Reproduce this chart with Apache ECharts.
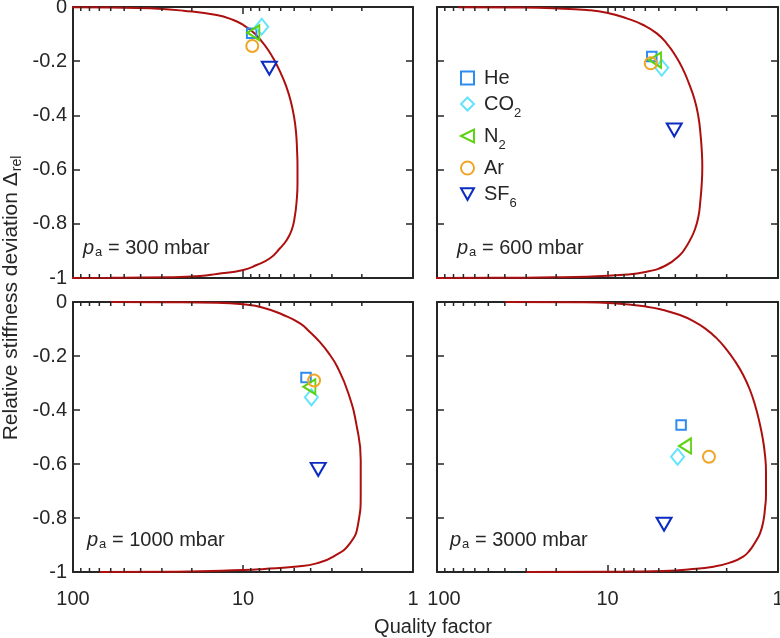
<!DOCTYPE html>
<html>
<head>
<meta charset="utf-8">
<script src="https://cdn.jsdelivr.net/npm/echarts@6/dist/echarts.min.js"></script>
<style>html,body{margin:0;padding:0;background:#fff}#c{width:780px;height:638px}</style>
</head>
<body>
<div id="c"></div>
<script>
// ---------------- data ----------------
const pressureLabels = ['300', '600', '1000', '3000'];
const gases = ['He', 'CO2', 'N2', 'Ar', 'SF6'];

// measured points (order: He, CO2, N2, Ar, SF6)
const q300 = [8.89, 7.76, 8.69, 8.82, 7.0];
const d300 = [-0.097, -0.073, -0.095, -0.144, -0.226];
const q600 = [5.50, 4.81, 5.26, 5.58, 4.06];
const d600 = [-0.183, -0.224, -0.196, -0.208, -0.454];
const q1000 = [4.26, 3.96, 4.07, 3.82, 3.61];
const d1000 = [-0.280, -0.353, -0.314, -0.291, -0.620];
const q3000 = [3.70, 3.88, 3.51, 2.54, 4.66];
const d3000 = [-0.456, -0.573, -0.533, -0.573, -0.823];

// model curves: stiffness deviation and quality factor
const curveD300 = [-0.0005, -0.002, -0.0049, -0.0135, -0.0295, -0.048, -0.0664, -0.0934, -0.1218, -0.1587, -0.2018, -0.2447, -0.2941, -0.3432, -0.4048, -0.466, -0.5277, -0.5893, -0.6506, -0.7122, -0.7738, -0.8229, -0.8598, -0.8904, -0.9273, -0.952, -0.9705, -0.9852, -0.9926, -0.9974, -0.9995, -0.99995];
const curveQ300 = [120, 60, 35.2, 22.45, 14.28, 11.40, 9.96, 8.70, 7.88, 7.11, 6.47, 5.99, 5.56, 5.26, 5.01, 4.87, 4.81, 4.78, 4.78, 4.83, 4.96, 5.17, 5.53, 6.06, 6.94, 8.31, 9.96, 14.28, 17.9, 28.1, 60, 150];
const curveD600 = [-0.0005, -0.002, -0.0049, -0.0111, -0.0209, -0.0418, -0.0664, -0.0972, -0.134, -0.177, -0.2263, -0.282, -0.343, -0.405, -0.466, -0.528, -0.59, -0.651, -0.712, -0.774, -0.823, -0.86, -0.89, -0.915, -0.952, -0.977, -0.989, -0.995, -0.9975, -0.9995, -0.99995];
const curveQ600 = [75, 33, 20.8, 13.2, 10.1, 7.72, 6.17, 5.14, 4.50, 4.02, 3.63, 3.33, 3.08, 2.93, 2.85, 2.80, 2.78, 2.80, 2.85, 2.93, 3.08, 3.28, 3.50, 3.76, 4.50, 5.89, 8.45, 13.2, 20.8, 45, 110];
const curveD1000 = [-0.0003, -0.001, -0.0026, -0.0086, -0.021, -0.048, -0.079, -0.11, -0.147, -0.184, -0.24, -0.338, -0.462, -0.585, -0.709, -0.82, -0.894, -0.943, -0.968, -0.98, -0.989, -0.993, -0.999, -0.9999];
const curveQ1000 = [60, 30, 14.3, 9.96, 7.60, 5.79, 4.62, 4.06, 3.55, 3.18, 2.79, 2.40, 2.14, 2.03, 2.03, 2.10, 2.35, 2.94, 3.69, 4.8, 7.5, 9.96, 24.5, 70];
const curveD3000 = [-0.0002, -0.001, -0.0049, -0.0173, -0.0296, -0.0481, -0.0704, -0.0975, -0.132, -0.1716, -0.2185, -0.2704, -0.3259, -0.3815, -0.4432, -0.505, -0.5667, -0.6284, -0.7148, -0.7642, -0.8136, -0.8568, -0.8877, -0.9185, -0.9432, -0.9654, -0.9802, -0.9901, -0.9963, -0.9985, -0.9995, -0.99995];
const curveQ3000 = [40, 14.5, 9.25, 5.89, 4.71, 3.76, 3.14, 2.68, 2.31, 2.03, 1.79, 1.60, 1.46, 1.364, 1.287, 1.229, 1.192, 1.176, 1.176, 1.192, 1.22, 1.275, 1.355, 1.46, 1.60, 1.91, 2.39, 3.28, 4.71, 7.38, 10.1, 30];

// axes
const xMin = 1, xMax = 100;
const xMinorTicks = [2, 3, 4, 5, 6, 7, 8, 9, 20, 30, 40, 50, 60, 70, 80, 90];
const yMin = -1, yMax = 0, yInterval = 0.2;

// ---------------- chart ----------------
const FONT = '"Liberation Sans", Arial, Helvetica, sans-serif';
const INK = '#262626';
const CURVE = '#ad0f0f';
const gasColors = ['#2e8bf0', '#62e4fc', '#5ed20f', '#f0a526', '#0b2cc2'];
const gasSymbols = ['rect', 'diamond', 'path://M0,5 L10,0 L10,10 Z', 'circle', 'path://M0,0 L10,0 L5,9 Z'];
const gasSizes = [9.5, [13, 16], [12, 15], 12, [15, 13]];

const qs = [q300, q600, q1000, q3000];
const ds = [d300, d600, d1000, d3000];
const cQ = [curveQ300, curveQ600, curveQ1000, curveQ3000];
const cD = [curveD300, curveD600, curveD1000, curveD3000];

const grids = [
  {left: 73, top: 7, width: 340, height: 271, outerBoundsMode: 'none', containLabel: false},
  {left: 437, top: 7, width: 341, height: 271, outerBoundsMode: 'none', containLabel: false},
  {left: 73, top: 302, width: 340, height: 270, outerBoundsMode: 'none', containLabel: false},
  {left: 437, top: 302, width: 341, height: 270, outerBoundsMode: 'none', containLabel: false}
];

const axisLine = {show: true, onZero: false, lineStyle: {color: INK, width: 2}};
const axisTick = {show: true, inside: true, length: 7, lineStyle: {color: INK, width: 1.5}};

const xAxes = [], yAxes = [], series = [];
grids.forEach((g, i) => {
  ['bottom', 'top'].forEach(pos => {
    xAxes.push({
      gridIndex: i, type: 'log', logBase: 10, min: xMin, max: xMax, inverse: true,
      position: pos, axisLine, axisTick,
      axisLabel: {
        show: pos === 'bottom' && i >= 2, fontSize: 20, color: INK, fontFamily: FONT, margin: 17,
        formatter: v => (i === 3 && Math.round(v) === 100) ? '{r|100}' : String(Math.round(v)),
        rich: {r: {fontSize: 20, color: INK, fontFamily: FONT, padding: [0, 0, 0, 14]}}
      },
      splitLine: {show: false}, minorTick: {show: false}
    });
  });
  ['left', 'right'].forEach(pos => {
    yAxes.push({
      gridIndex: i, type: 'value', min: yMin, max: yMax, interval: yInterval,
      position: pos, axisLine, axisTick,
      axisLabel: {show: pos === 'left' && i % 2 === 0, fontSize: 20, color: INK, fontFamily: FONT, margin: 6},
      splitLine: {show: false}
    });
  });

  series.push({
    type: 'line', xAxisIndex: 2 * i, yAxisIndex: 2 * i,
    data: cQ[i].map((q, k) => [q, cD[i][k]]),
    symbol: 'none', showSymbol: false, smooth: 0.5,
    lineStyle: {color: CURVE, width: 2}, z: 2, silent: true
  });

  gases.forEach((name, gIdx) => {
    series.push({
      name, type: 'scatter', xAxisIndex: 2 * i, yAxisIndex: 2 * i,
      data: [[qs[i][gIdx], ds[i][gIdx]]],
      symbol: gasSymbols[gIdx], symbolSize: gasSizes[gIdx],
      itemStyle: {color: 'rgba(0,0,0,0)', borderColor: gasColors[gIdx], borderWidth: 2, opacity: 1},
      z: 3 + gIdx
    });
  });

  series.push({
    type: 'custom', xAxisIndex: 2 * i, yAxisIndex: 2 * i, silent: true, z: 20,
    data: xMinorTicks.map(v => [v, yMin]),
    renderItem: (params, api) => {
      const v = api.value(0);
      const b = api.coord([v, yMin]);
      const t = api.coord([v, yMax]);
      const st = {stroke: INK, lineWidth: 1.5};
      return {type: 'group', children: [
        {type: 'line', shape: {x1: b[0], y1: b[1], x2: b[0], y2: b[1] - 4}, style: st},
        {type: 'line', shape: {x1: t[0], y1: t[1], x2: t[0], y2: t[1] + 4}, style: st}
      ]};
    }
  });
});

const legendRich = {
  n: {fontSize: 20, fontFamily: FONT, color: INK, lineHeight: 20, padding: [0, 0, 0, 5], verticalAlign: 'top'},
  s: {fontSize: 13, fontFamily: FONT, color: INK, lineHeight: 13, padding: [13, 0, 0, 0], verticalAlign: 'top'}
};
const legendText = {He: '{n|He}', CO2: '{n|CO}{s|2}', N2: '{n|N}{s|2}', Ar: '{n|Ar}', SF6: '{n|SF}{s|6}'};

const annRich = {
  i: {fontSize: 20, fontFamily: FONT, fontStyle: 'italic', fill: INK, lineHeight: 20, verticalAlign: 'top'},
  a: {fontSize: 13, fontFamily: FONT, fill: INK, lineHeight: 13, padding: [8, 0, 0, 1], verticalAlign: 'top'},
  n: {fontSize: 20, fontFamily: FONT, fill: INK, lineHeight: 20, verticalAlign: 'top'}
};
const annPos = [[83, 248], [457, 248], [87, 540], [450, 540]];
const graphics = pressureLabels.map((p, i) => ({
  type: 'text', x: annPos[i][0], y: annPos[i][1], silent: true,
  style: {text: '{i|p}{a|a}{n| = ' + p + ' mbar}', rich: annRich, fill: INK, fontSize: 20, fontFamily: FONT, align: 'left', verticalAlign: 'middle'}
}));
graphics.push({
  type: 'text', x: 433, y: 627, silent: true,
  style: {text: 'Quality factor', fill: INK, fontSize: 20, fontFamily: FONT, align: 'center', verticalAlign: 'middle'}
});
graphics.push({
  type: 'text', x: 11, y: 298, rotation: Math.PI / 2, silent: true,
  style: {
    text: '{n|Relative stiffness deviation Δ}{s|rel}', fill: INK, fontSize: 21, fontFamily: FONT,
    align: 'center', verticalAlign: 'middle',
    rich: {
      n: {fontSize: 21, fontFamily: FONT, fill: INK, lineHeight: 21, verticalAlign: 'top'},
      s: {fontSize: 14, fontFamily: FONT, fill: INK, lineHeight: 14, padding: [10, 0, 0, 1], verticalAlign: 'top'}
    }
  }
});

const chart = echarts.init(document.getElementById('c'), null, {renderer: 'canvas'});
chart.setOption({
  animation: false,
  backgroundColor: '#ffffff',
  textStyle: {fontFamily: FONT, color: INK},
  grid: grids,
  xAxis: xAxes,
  yAxis: yAxes,
  legend: {
    data: gases, orient: 'vertical', left: 460, top: 68, padding: 0, itemGap: 6,
    itemWidth: 13, itemHeight: 13, selectedMode: false,
    itemStyle: {borderWidth: 2},
    formatter: name => legendText[name],
    textStyle: {fontSize: 20, color: INK, fontFamily: FONT, rich: legendRich}
  },
  graphic: graphics,
  series
});
</script>
</body>
</html>
